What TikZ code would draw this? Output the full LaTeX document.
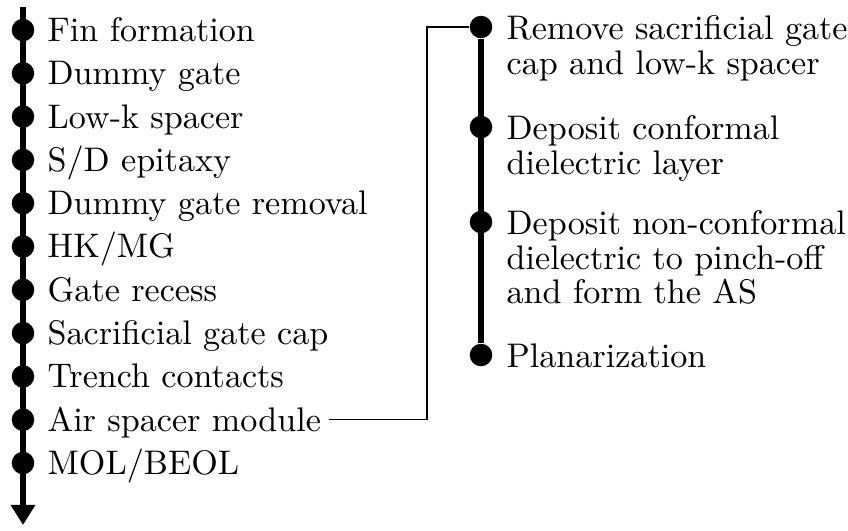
\documentclass[tikz,border=0pt]{standalone}
\usetikzlibrary{arrows.meta}

\begin{document}
\begin{tikzpicture}[x=0.2975pt,y=-0.2975pt,
    dot/.style={circle,fill,inner sep=0pt,minimum size=6.7pt},
    item/.style={anchor=base west,inner sep=0pt,yshift=-3.4pt,font=\fontsize{10.15}{12}\selectfont},
    subitem/.style={anchor=north west,inner sep=0pt,yshift=3.5pt,align=left,font=\fontsize{10.15}{10.15}\selectfont},
    flow/.style={line width=1.5pt}]
    \useasboundingbox (0,0) rectangle (848,530);

    % main process flow
    \coordinate (top) at (23,7);
    \coordinate (bottom) at (23,525);
    \draw[flow,-{Triangle[width=7pt,length=6pt]}] (top) -- (bottom);

    \node[dot] (l1) at (23,30) {};
    \node[dot] (l2) at (23,73.3) {};
    \node[dot] (l3) at (23,116.6) {};
    \node[dot] (l4) at (23,159.9) {};
    \node[dot] (l5) at (23,203.2) {};
    \node[dot] (l6) at (23,246.5) {};
    \node[dot] (l7) at (23,289.8) {};
    \node[dot] (l8) at (23,333.1) {};
    \node[dot] (l9) at (23,376.4) {};
    \node[dot] (l10) at (23,419.7) {};
    \node[dot] (l11) at (23,463) {};

    \node[item] (t1) at (47,30) {Fin formation};
    \node[item] (t2) at (47,73.3) {Dummy gate};
    \node[item] (t3) at (47,116.6) {Low-k spacer};
    \node[item] (t4) at (47,159.9) {S/D epitaxy};
    \node[item] (t5) at (47,203.2) {Dummy gate removal};
    \node[item] (t6) at (47,246.5) {HK/MG};
    \node[item] (t7) at (47,289.8) {Gate recess};
    \node[item] (t8) at (47,333.1) {Sacrificial gate cap};
    \node[item] (t9) at (47,376.4) {Trench contacts};
    \node[item] (t10) at (47,419.7) {Air spacer module};
    \node[item] (t11) at (47,463) {MOL/BEOL};

    % air spacer module
    \node[dot] (r1) at (481,27) {};
    \node[dot] (r2) at (481,127) {};
    \node[dot] (r3) at (481,222) {};
    \node[dot] (r4) at (481,355) {};
    \draw[flow] (r1) -- (r4);

    \node[subitem] (s1) at (506,27) {Remove sacrificial gate\\cap and low-k spacer};
    \node[subitem] (s2) at (506,127) {Deposit conformal\\dielectric layer};
    \node[subitem] (s3) at (506,222) {Deposit non-conformal\\dielectric to pinch-off\\and form the AS};
    \node[subitem] (s4) at (506,355) {Planarization};

    \coordinate (start) at ([xshift=2.2pt]t10.east |- l10);
    \coordinate (bend) at (427,419.7);
    \draw[line width=0.4pt] (start) -- (bend) |- (r1.west);
\end{tikzpicture}
\end{document}
